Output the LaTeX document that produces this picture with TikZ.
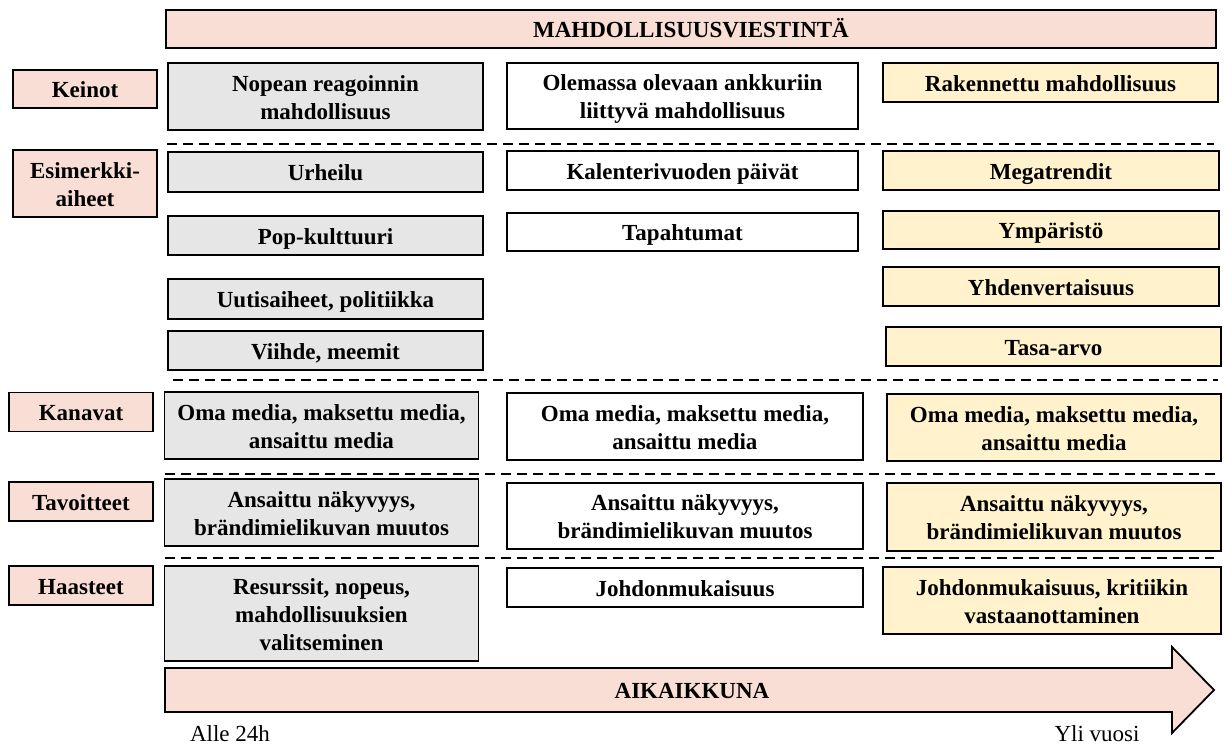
\documentclass[tikz,border=0pt]{standalone}
\usepackage{fontspec}
\setmainfont{Liberation Serif}
\definecolor{pinkf}{HTML}{F9DED5}
\definecolor{grayf}{HTML}{E7E6E6}
\definecolor{yellf}{HTML}{FFF2CC}
\newcommand{\fl}[1]{\rule{0pt}{17pt}\smash{#1}}
\newcommand{\ol}[1]{\smash{#1}}
\begin{document}
\begin{tikzpicture}[x=1pt,y=-1pt,
  bx/.style={draw=black, line width=1.8pt, inner sep=0pt, align=center,
    font=\fontsize{23}{28}\selectfont\bfseries},
  lab/.style={bx, fill=pinkf},
  gbx/.style={bx, fill=grayf},
  wbx/.style={bx, fill=white},
  ybx/.style={bx, fill=yellf},
  sep/.style={line width=2.4pt, dash pattern=on 10pt off 6pt},
  plain/.style={font=\fontsize{23}{28}\selectfont}
]
\useasboundingbox (0,0) rectangle (1224,744);
% banner
\node[lab, minimum width=1050, minimum height=38] (banner) at (691,29) {\fl{MAHDOLLISUUSVIESTINTÄ}};
% row labels
\node[lab, minimum width=144, minimum height=38] (keinot) at (85,89) {\fl{Keinot}};
\node[lab, minimum width=144, minimum height=67] (esim) at (85,183.5) {\fl{Esimerkki-}\\\ol{aiheet}};
\node[lab, minimum width=144, minimum height=39] (kanavat) at (81,412) {\fl{Kanavat}};
\node[lab, minimum width=144, minimum height=39] (tavoitteet) at (81,501.5) {\fl{Tavoitteet}};
\node[lab, minimum width=144, minimum height=39] (haasteet) at (81,585.5) {\fl{Haasteet}};
% column 1
\node[gbx, minimum width=315, minimum height=67] (c1a) at (325.5,96.5) {\fl{Nopean reagoinnin}\\\ol{mahdollisuus}};
\node[gbx, minimum width=315, minimum height=40] (c1b) at (325.5,172) {\fl{Urheilu}};
\node[gbx, minimum width=315, minimum height=39] (c1c) at (325.5,235.5) {\fl{Pop-kulttuuri}};
\node[gbx, minimum width=315, minimum height=40] (c1d) at (325.5,299) {\fl{Uutisaiheet, politiikka}};
\node[gbx, minimum width=315, minimum height=39] (c1e) at (325.5,350.5) {\fl{Viihde, meemit}};
\node[gbx, minimum width=314, minimum height=67] (c1f) at (321.5,425.5) {\fl{Oma media, maksettu media,}\\\ol{ansaittu media}};
\node[gbx, minimum width=314, minimum height=67] (c1g) at (321.5,512.5) {\fl{Ansaittu näkyvyys,}\\\ol{brändimielikuvan muutos}};
\node[gbx, minimum width=314, minimum height=95] (c1h) at (321.5,613.5) {\fl{Resurssit, nopeus,}\\\ol{mahdollisuuksien}\\\ol{valitseminen}};
% column 2
\node[wbx, minimum width=351, minimum height=66] (c2a) at (682.5,96) {\fl{Olemassa olevaan ankkuriin}\\\ol{liittyvä mahdollisuus}};
\node[wbx, minimum width=351, minimum height=39] (c2b) at (682.5,170.5) {\fl{Kalenterivuoden päivät}};
\node[wbx, minimum width=351, minimum height=38] (c2c) at (682.5,232) {\fl{Tapahtumat}};
\node[wbx, minimum width=356, minimum height=67] (c2f) at (685,426.5) {\fl{Oma media, maksettu media,}\\\ol{ansaittu media}};
\node[wbx, minimum width=356, minimum height=66] (c2g) at (685,516) {\fl{Ansaittu näkyvyys,}\\\ol{brändimielikuvan muutos}};
\node[wbx, minimum width=356, minimum height=39] (c2h) at (685,587.5) {\fl{Johdonmukaisuus}};
% column 3
\node[ybx, minimum width=335, minimum height=39] (c3a) at (1050.5,82.5) {\fl{Rakennettu mahdollisuus}};
\node[ybx, minimum width=336, minimum height=39] (c3b) at (1051,170.5) {\fl{Megatrendit}};
\node[ybx, minimum width=336, minimum height=38] (c3c) at (1051,230) {\fl{Ympäristö}};
\node[ybx, minimum width=336, minimum height=39] (c3d) at (1051,286.5) {\fl{Yhdenvertaisuus}};
\node[ybx, minimum width=335, minimum height=39] (c3e) at (1053.5,346.5) {\fl{Tasa-arvo}};
\node[ybx, minimum width=334, minimum height=67] (c3f) at (1054,427.5) {\fl{Oma media, maksettu media,}\\\ol{ansaittu media}};
\node[ybx, minimum width=334, minimum height=68] (c3g) at (1054,517) {\fl{Ansaittu näkyvyys,}\\\ol{brändimielikuvan muutos}};
\node[ybx, minimum width=338, minimum height=67] (c3h) at (1052,600.5) {\fl{Johdonmukaisuus, kritiikin}\\\ol{vastaanottaminen}};
% separators
\draw[sep] (167,144) -- (1214,144);
\draw[sep] (173,380) -- (1218,380);
\draw[sep] (165,474) -- (1216,474);
\draw[sep] (165,558) -- (1214,558);
% time arrow
\draw[line width=1.8pt, fill=pinkf] (165,668) -- (1172,668) -- (1172,647) -- (1214,690) -- (1172,733) -- (1172,712) -- (165,712) -- cycle;
\node[font=\fontsize{23}{28}\selectfont\bfseries, inner sep=0pt] (aika) at (692,690) {\fl{AIKAIKKUNA}};
\node[plain, anchor=base] (alle) at (230,741) {Alle 24h};
\node[plain, anchor=base] (yli) at (1097,741) {Yli vuosi};
\end{tikzpicture}
\end{document}
